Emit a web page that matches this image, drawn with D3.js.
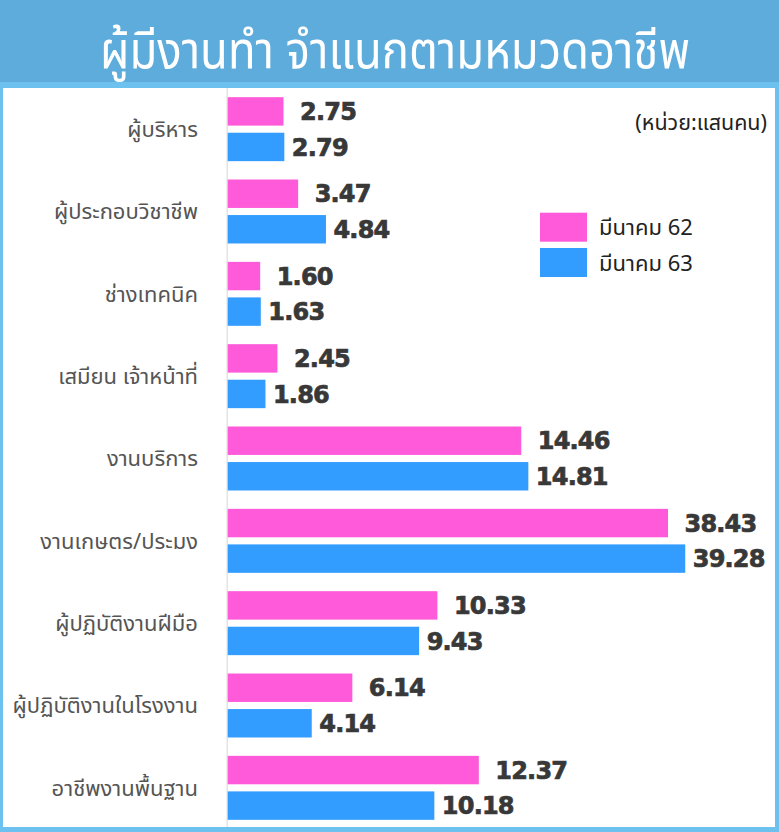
<!DOCTYPE html>
<html><head><meta charset="utf-8">
<script src="https://cdn.jsdelivr.net/npm/d3@7/dist/d3.min.js"></script>
<style>body{margin:0;background:#fff}svg{display:block}</style>
</head><body>
<script>
const title = "ผู้มีงานทำ จำแนกตามหมวดอาชีพ";
const unitLabel = "(หน่วย:แสนคน)";
const categories = ["ผู้บริหาร","ผู้ประกอบวิชาชีพ","ช่างเทคนิค","เสมียน เจ้าหน้าที่","งานบริการ","งานเกษตร/ประมง","ผู้ปฏิบัติงานฝีมือ","ผู้ปฏิบัติงานในโรงงาน","อาชีพงานพื้นฐาน"];
const seriesNames = ["มีนาคม 62","มีนาคม 63"];
const march62 = [2.75,3.47,1.60,2.45,14.46,38.43,10.33,6.14,12.37];
const march63 = [2.79,4.84,1.63,1.86,14.81,39.28,9.43,4.14,10.18];
const colors = ["#ff5ad9","#339cff"];

const W = 779, H = 832;
const svg = d3.select("body").append("svg").attr("width", W).attr("height", H);
const thai = "'Noto Sans Thai','Noto Sans',sans-serif";

// frame
svg.append("rect").attr("x",0).attr("y",0).attr("width",W).attr("height",H).attr("fill","#6dc1ef");
svg.append("rect").attr("x",3).attr("y",88).attr("width",772).attr("height",739).attr("fill","#fff");
svg.append("rect").attr("x",0).attr("y",0).attr("width",W).attr("height",82).attr("fill","#5dacdc");
svg.append("text").attr("x",395).attr("y",68).attr("text-anchor","middle")
  .attr("fill","#fff").attr("font-family",thai)
  .attr("font-size",51).attr("textLength",590).attr("lengthAdjust","spacingAndGlyphs").text(title);

const x0 = 227.2, k = 20.3;
// broken axis: agriculture bars compressed
const x = d3.scaleLinear().domain([0, 15, 38, 40])
  .range([x0, x0 + 15*k, x0 + (38-16.74)*k, x0 + (40-16.74)*k]);

const y = d3.scaleBand().domain(categories).range([88, 829]).paddingInner(0.223).paddingOuter(0.1115);
const ys = d3.scaleBand().domain(seriesNames).range([0, y.bandwidth()]).paddingInner(0.2);

// axis line
svg.append("line").attr("x1",x(0)).attr("x2",x(0)).attr("y1",88).attr("y2",827)
  .attr("stroke","#e4e4e4").attr("stroke-width",1.5);

const data = [march62, march63];
const labelOffset = [17, 8];
data.forEach((vals, s) => {
  const g = svg.append("g");
  g.selectAll("rect").data(vals).join("rect")
    .attr("x", x(0)+0.5)
    .attr("y", (d,i) => y(categories[i]) + ys(seriesNames[s]))
    .attr("width", d => x(d) - x(0))
    .attr("height", ys.bandwidth())
    .attr("fill", colors[s]);
  g.selectAll("text").data(vals).join("text")
    .attr("x", d => x(d) + labelOffset[s])
    .attr("y", (d,i) => y(categories[i]) + ys(seriesNames[s]) + ys.bandwidth()/2)
    .attr("dy","0.36em")
    .attr("font-family","'DejaVu Sans',sans-serif").attr("font-weight","bold")
    .attr("font-size",24).attr("letter-spacing","-0.8")
    .attr("fill","#383838").attr("stroke","#383838").attr("stroke-width",0.7)
    .text(d => d.toFixed(2));
});

// category labels
svg.append("g").selectAll("text").data(categories).join("text")
  .attr("x",198).attr("y", d => y(d) + y.bandwidth()/2)
  .attr("dy","0.35em").attr("text-anchor","end")
  .attr("font-family",thai)
  .attr("font-size",22).attr("fill","#555").text(d => d);

// unit label
svg.append("text").attr("x",767).attr("y",122).attr("dy","0.35em").attr("text-anchor","end")
  .attr("font-family",thai).attr("font-size",21.5).attr("fill","#222")
  .text(unitLabel);

// legend
const lg = svg.append("g").selectAll("g").data(seriesNames).join("g")
  .attr("transform",(d,i)=>`translate(540,${212.7 + i*35.3})`);
lg.append("rect").attr("width",47).attr("height",29).attr("fill",(d,i)=>colors[i]);
lg.append("text").attr("x",59).attr("y",15).attr("dy","0.35em")
  .attr("font-family",thai).attr("font-size",22).attr("fill","#222")
  .text(d=>d);
</script>
</body></html>
